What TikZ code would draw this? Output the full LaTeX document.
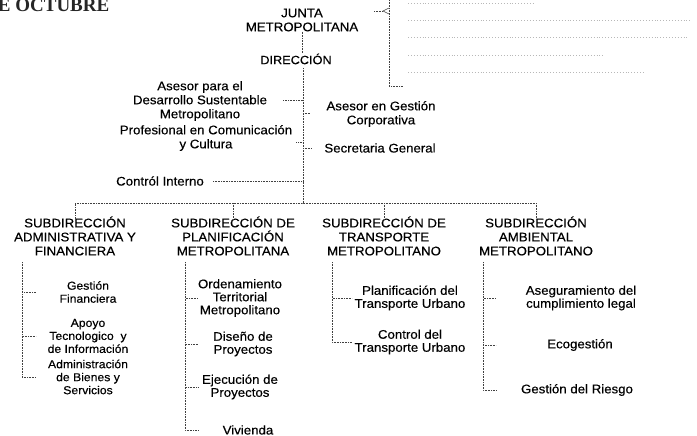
\documentclass[tikz,border=0pt]{standalone}
\usepackage{fontspec}
\setmainfont{Liberation Sans}[FakeStretch=1.06, FakeBold=0.35]
\newfontfamily\headserif{Liberation Serif}
\begin{document}
\begin{tikzpicture}[x=1pt,y=-1pt,
  conn/.style={densely dotted, line width=0.6pt, black!75},
  lbl/.style={align=center, inner sep=0pt, font=\fontsize{12.5}{14}\selectfont},
  leaf/.style={align=center, inner sep=0pt, font=\fontsize{12.5}{13}\selectfont},
  smallleaf/.style={leaf, font=\fontsize{11.5}{13}\selectfont},
  faint/.style={dotted, line width=0.9pt, black!28}]
\useasboundingbox (0,0) rectangle (697,436);

% cut-off heading at top left
\node[anchor=base west, inner sep=0pt, font=\headserif\bfseries\fontsize{19}{19}\selectfont, black!85] (octubre) at (-16,11.5) {DE OCTUBRE};

% top
\node[lbl] (junta) at (302,20) {JUNTA\\METROPOLITANA};
\node[lbl, font=\fontsize{12}{13}\selectfont] (direccion) at (296,59) {DIRECCIÓN};
\draw[conn] (junta.south -| 302,0) -- (direccion.north -| 302,0);

% bracket with faint notes
\coordinate (brtop) at (389,0);
\coordinate (brbot) at (389,86);
\coordinate (brfoot) at (403,86);
\coordinate (brtip) at (383,11);
\draw[conn] (brtop) -- (brbot) -- (brfoot);
\draw[conn] (374,11) -- (brtip);
\draw[black!75, line width=0.5pt] (389,8) -- (brtip) -- (389,14);
\draw[faint] (408,3) -- (533,3);
\draw[faint] (408,20) -- (692,20);
\draw[faint] (408,37) -- (687,37);
\draw[faint] (408,55) -- (603,55);
\draw[faint] (408,72) -- (643,72);

% spine
\coordinate (spinetop) at (303,68);
\coordinate (bus) at (303,203);
\draw[conn] (spinetop) -- (bus);

% staff units
\node[lbl] (asesords) at (200,101) {Asesor para el\\Desarrollo Sustentable\\Metropolitano};
\node[lbl] (asesorgc) at (381,114) {Asesor en Gestión\\Corporativa};
\node[lbl] (profesional) at (206,138) {Profesional en Comunicación\\y Cultura};
\node[lbl] (secretaria) at (380,148) {Secretaria General};
\node[lbl] (control) at (160,181) {Contról Interno};

\draw[conn] (asesords.east |- 0,100) ++(16,0) -- (spinetop |- 0,100);
\draw[conn] (profesional.east |- 0,142) ++(4,0) -- (spinetop |- 0,142);
\draw[conn] (spinetop |- 0,113) -- (310,113);
\draw[conn] (spinetop |- 0,148) -- (312,148);
\draw[conn] (control.east) ++(9,0) -- (control.east -| spinetop);

% subdirecciones
\node[lbl] (sub1) at (75,236) {SUBDIRECCIÓN\\ADMINISTRATIVA Y\\FINANCIERA};
\node[lbl] (sub2) at (233,236) {SUBDIRECCIÓN DE\\PLANIFICACIÓN\\METROPOLITANA};
\node[lbl] (sub3) at (384,236) {SUBDIRECCIÓN DE\\TRANSPORTE\\METROPOLITANO};
\node[lbl] (sub4) at (536,236) {SUBDIRECCIÓN\\AMBIENTAL\\METROPOLITANO};

\draw[conn] ([yshift=-4pt]sub1.north) |- (bus) -| ([yshift=-4pt]sub4.north);
\draw[conn] (bus -| sub2.north) -- ([yshift=-4pt]sub2.north);
\draw[conn] (bus -| sub3.north) -- ([yshift=-4pt]sub3.north);

% children of sub1
\node[smallleaf] (gf) at (88,292) {Gestión\\Financiera};
\node[smallleaf] (apoyo) at (88,336) {Apoyo\\Tecnologico\ \ y\\de Información};
\node[smallleaf] (admin) at (88,377) {Administración\\de Bienes y\\Servicios};
\coordinate (v1) at (22,262);
\draw[conn] (v1) |- (gf.west -| 36,0);
\draw[conn] (v1) |- (apoyo.west -| 36,0);
\draw[conn] (v1) |- (admin.west -| 36,0);

% children of sub2
\node[leaf] (orden) at (240,298) {Ordenamiento\\Territorial\\Metropolitano};
\node[leaf] (diseno) at (243,344) {Diseño de\\Proyectos};
\node[leaf] (ejec) at (240,387) {Ejecución de\\Proyectos};
\node[leaf] (viv) at (248,430) {Vivienda};
\coordinate (v2) at (185,262);
\draw[conn] (v2) |- (orden.west -| 198,0);
\draw[conn] (v2) |- (diseno.west -| 198,0);
\draw[conn] (v2) |- (ejec.west -| 198,0);
\draw[conn] (v2) |- (viv.west -| 198,0);

% children of sub3
\node[leaf] (plan) at (410,298) {Planificación del\\Transporte Urbano};
\node[leaf] (ctrl) at (410,342) {Control del\\Transporte Urbano};
\coordinate (v3) at (332,262);
\draw[conn] (v3) |- (plan.west -| 352,0);
\draw[conn] (v3) |- (ctrl.west -| 352,0);

% children of sub4
\node[leaf] (aseg) at (581,298) {Aseguramiento del\\cumplimiento legal};
\node[leaf] (eco) at (580,345) {Ecogestión};
\node[leaf] (riesgo) at (577,390) {Gestión del Riesgo};
\coordinate (v4) at (483,262);
\draw[conn] (v4) |- (aseg.west -| 496,0);
\draw[conn] (v4) |- (eco.west -| 496,0);
\draw[conn] (v4) |- (riesgo.west -| 496,0);
\end{tikzpicture}
\end{document}
